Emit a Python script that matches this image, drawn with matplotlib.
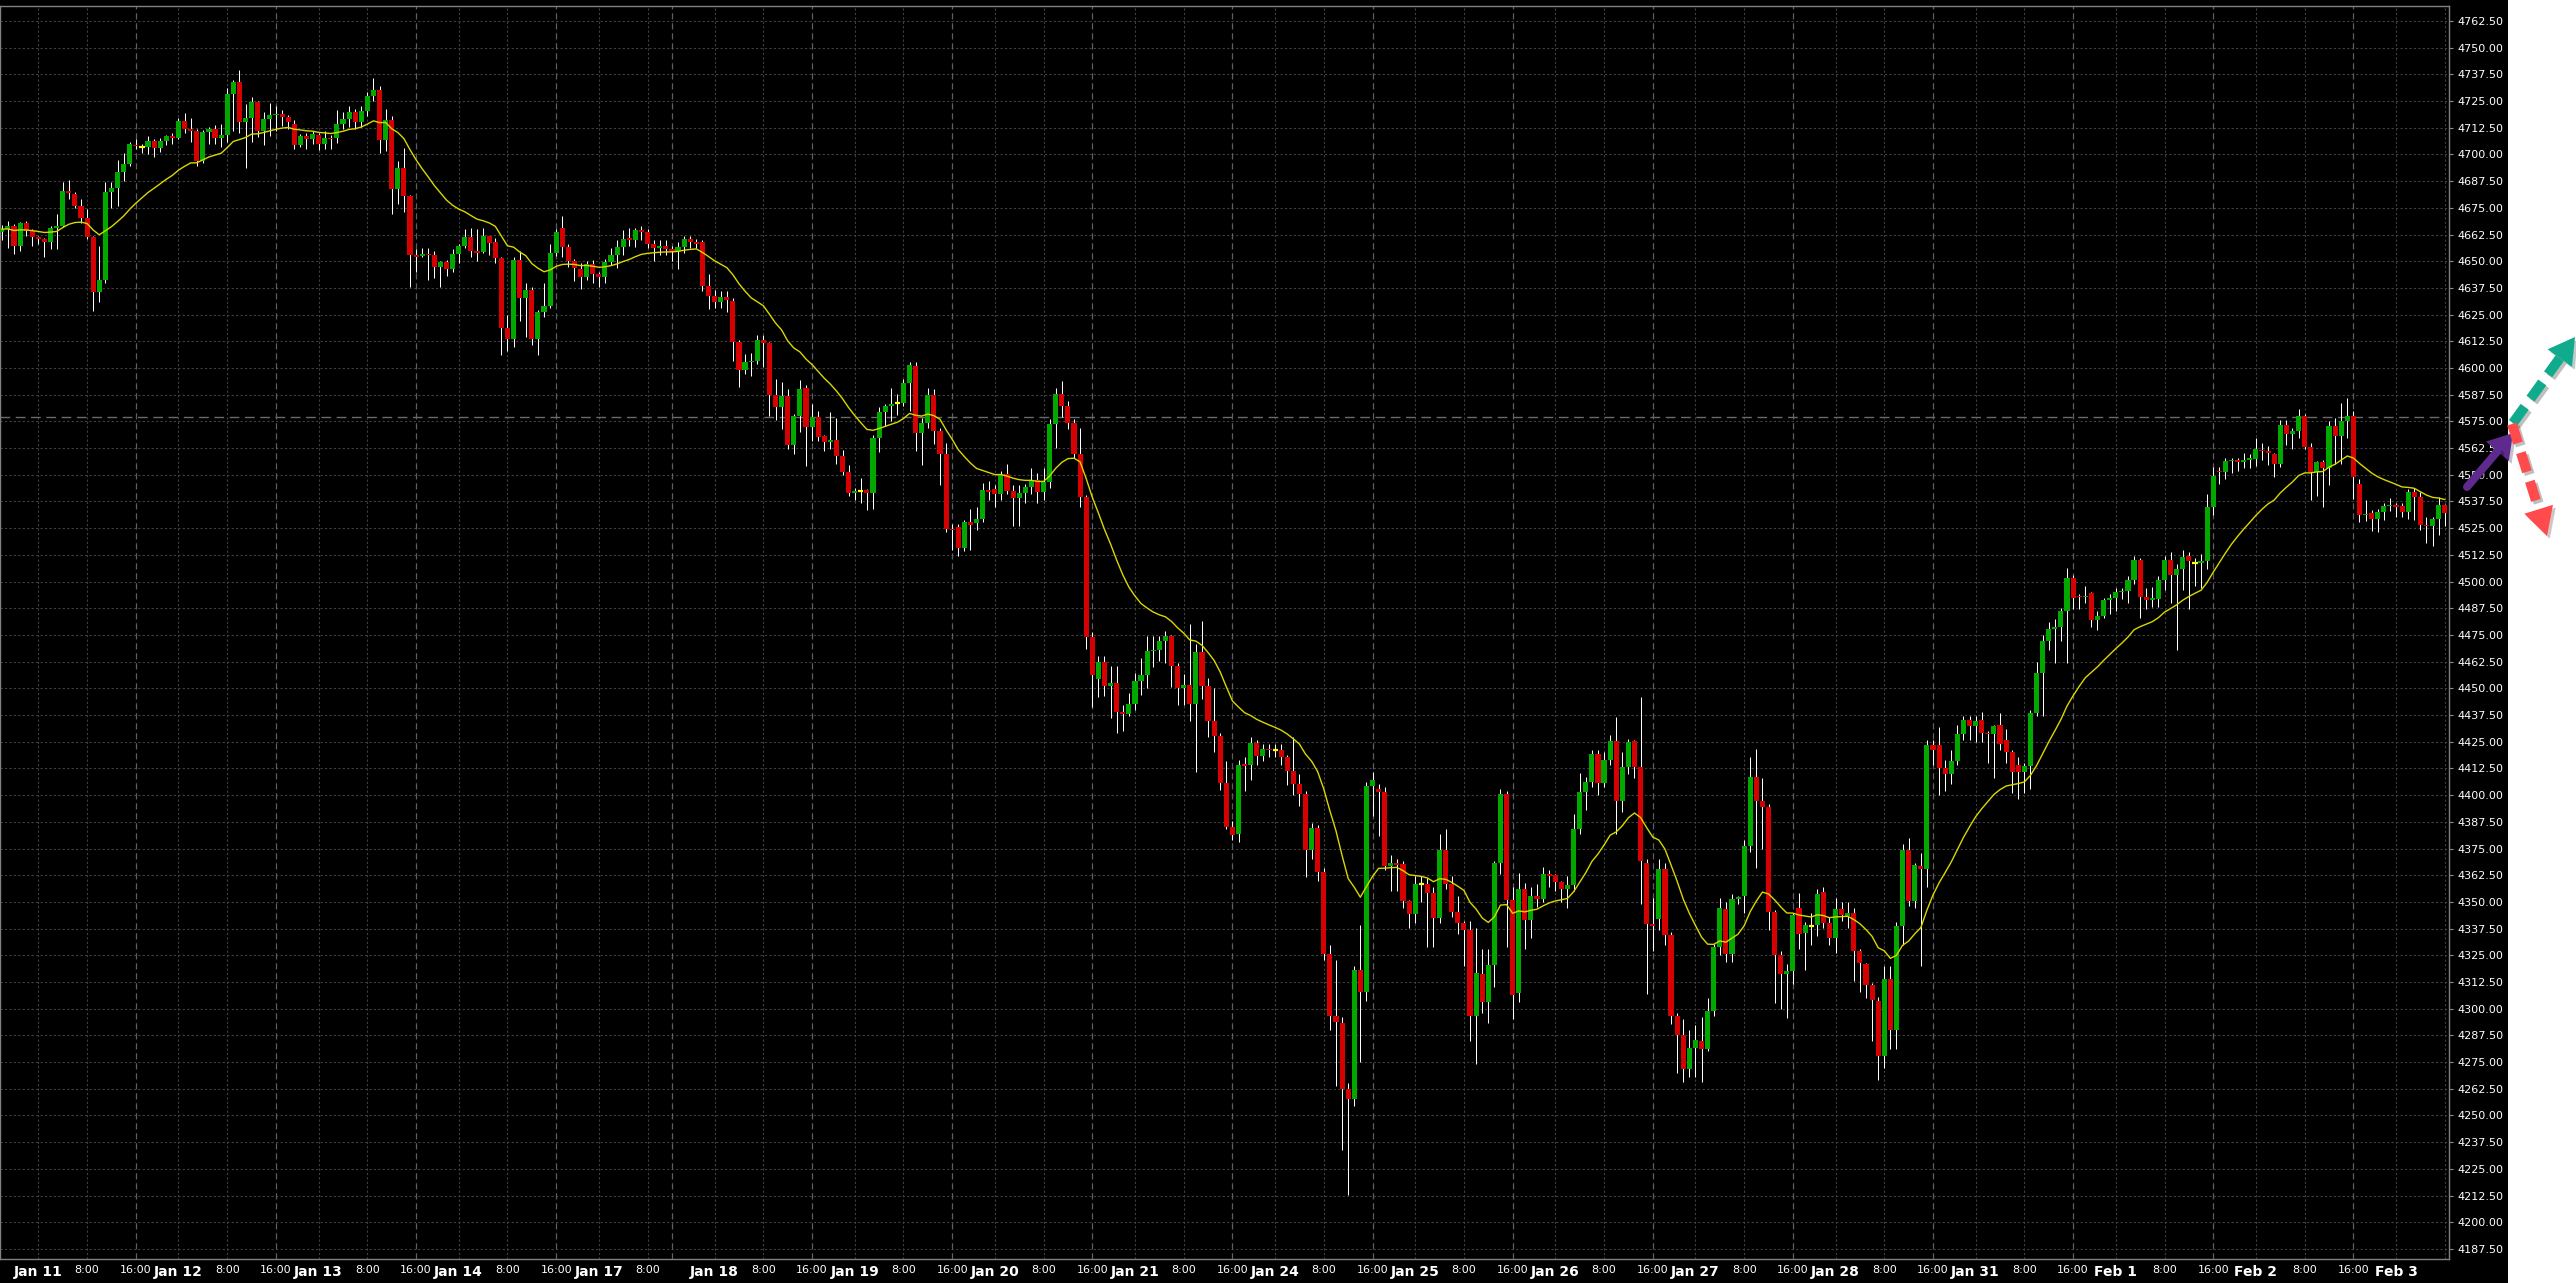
import matplotlib
matplotlib.use("Agg")
import matplotlib.pyplot as plt
import matplotlib.patheffects as pe
from matplotlib.patches import Rectangle, Polygon
import numpy as np
import pandas as pd

# hourly sessions (ET), one bar per hour, 17:00 break
full_day = list(range(0, 17)) + list(range(18, 24))
sessions = [
    ("Jan 10", list(range(18, 24))),
    ("Jan 11", full_day), ("Jan 12", full_day), ("Jan 13", full_day),
    ("Jan 14", list(range(0, 17))),
    ("Jan 16", list(range(18, 24))),
    ("Jan 17", list(range(0, 13)) + list(range(18, 24))),
    ("Jan 18", full_day), ("Jan 19", full_day), ("Jan 20", full_day),
    ("Jan 21", list(range(0, 17))),
    ("Jan 23", list(range(18, 24))),
    ("Jan 24", full_day), ("Jan 25", full_day), ("Jan 26", full_day), ("Jan 27", full_day),
    ("Jan 28", list(range(0, 17))),
    ("Jan 30", list(range(18, 24))),
    ("Jan 31", full_day), ("Feb 1", full_day), ("Feb 2", full_day),
    ("Feb 3", list(range(0, 9))),
]

opens = [
    4663.8, 4665.0, 4666.3, 4657.3, 4667.7, 4664.0, 4661.3, 4660.2, 4658.9, 4665.5,
    4666.7, 4683.1, 4681.6, 4675.8, 4670.2, 4661.3, 4635.5, 4641.4, 4682.2, 4684.5,
    4691.6, 4695.6, 4704.5, 4703.4, 4703.4, 4706.1, 4703.0, 4706.1, 4708.4, 4707.8,
    4715.5, 4711.7, 4711.0, 4696.7, 4710.5, 4711.7, 4707.8, 4708.9, 4728.1, 4733.9,
    4715.2, 4717.0, 4724.5, 4711.0, 4716.4, 4718.3, 4719.0, 4717.5, 4714.4, 4704.2,
    4708.4, 4707.0, 4709.0, 4705.0, 4707.8, 4707.6, 4714.4, 4716.4, 4719.8, 4715.2,
    4720.3, 4727.5, 4730.3, 4706.9, 4716.2, 4683.9, 4693.6, 4680.5, 4652.8, 4652.5,
    4653.6, 4652.9, 4647.2, 4649.4, 4646.3, 4653.4, 4657.3, 4661.3, 4654.7, 4654.5,
    4661.6, 4658.9, 4651.4, 4618.6, 4613.4, 4650.8, 4632.8, 4636.3, 4613.4, 4626.4,
    4629.2, 4653.8, 4665.6, 4656.6, 4650.3, 4646.4, 4642.5, 4648.8, 4644.1, 4642.8,
    4649.5, 4653.1, 4656.6, 4661.0, 4660.0, 4664.4, 4663.6, 4658.1, 4656.3, 4657.0,
    4655.6, 4655.0, 4656.6, 4660.5, 4658.9, 4658.9, 4638.6, 4633.9, 4631.1, 4633.4,
    4631.6, 4612.0, 4599.2, 4603.0, 4603.4, 4613.3, 4611.6, 4587.5, 4581.9, 4587.0,
    4564.0, 4577.7, 4590.6, 4572.2, 4577.2, 4568.1, 4565.2, 4566.3, 4559.0, 4551.1,
    4541.7, 4542.5, 4542.8, 4541.3, 4567.0, 4579.5, 4582.3, 4583.4, 4583.8, 4592.8,
    4601.1, 4569.4, 4574.1, 4587.5, 4570.6, 4559.8, 4524.5, 4525.6, 4515.9, 4527.7,
    4527.3, 4529.5, 4542.8, 4543.4, 4540.8, 4550.3, 4542.6, 4539.0, 4541.3, 4544.1,
    4547.7, 4542.0, 4546.7, 4573.7, 4587.6, 4582.0, 4574.2, 4559.6, 4539.5, 4473.9,
    4454.6, 4462.3, 4451.3, 4452.6, 4439.0, 4437.9, 4442.8, 4453.3, 4456.2, 4467.5,
    4468.0, 4472.1, 4474.7, 4460.6, 4450.3, 4451.8, 4442.6, 4467.0, 4451.3, 4434.8,
    4427.9, 4405.8, 4385.2, 4382.0, 4414.5, 4414.3, 4424.4, 4418.5, 4421.8, 4420.9,
    4420.9, 4417.8, 4411.4, 4405.0, 4400.6, 4374.4, 4384.4, 4364.1, 4325.5, 4296.4,
    4293.3, 4262.5, 4257.9, 4318.3, 4308.0, 4404.5, 4402.7, 4401.7, 4366.6, 4368.1,
    4367.8, 4350.3, 4344.4, 4358.5, 4358.5, 4354.3, 4342.7, 4374.1, 4358.2, 4345.3,
    4340.2, 4336.9, 4296.6, 4316.4, 4303.1, 4320.3, 4368.3, 4400.5, 4350.8, 4307.2,
    4356.0, 4341.5, 4352.8, 4351.4, 4363.3, 4362.5, 4359.4, 4356.1, 4357.8, 4384.1,
    4401.3, 4406.1, 4419.2, 4405.5, 4416.4, 4425.3, 4397.3, 4413.0, 4425.3, 4413.0,
    4368.4, 4339.8, 4342.0, 4365.6, 4334.4, 4296.6, 4287.5, 4271.9, 4281.7, 4285.0,
    4281.3, 4298.9, 4328.9, 4346.7, 4325.5, 4351.4, 4352.6, 4376.3, 4408.6, 4397.2,
    4394.5, 4345.3, 4325.0, 4316.4, 4317.7, 4347.0, 4335.4, 4338.6, 4339.0, 4354.5,
    4340.2, 4333.1, 4346.6, 4343.5, 4345.0, 4326.9, 4320.8, 4310.9, 4303.6, 4277.7,
    4313.7, 4289.8, 4338.6, 4374.2, 4350.5, 4366.7, 4365.5, 4423.7, 4423.4, 4412.9,
    4409.7, 4415.9, 4428.4, 4435.2, 4432.5, 4435.2, 4429.1, 4428.5, 4432.7, 4426.0,
    4420.3, 4414.0, 4410.6, 4413.6, 4438.6, 4457.0, 4472.2, 4478.0, 4478.9, 4486.0,
    4501.6, 4493.4, 4492.6, 4494.5, 4482.0, 4484.1, 4491.4, 4492.2, 4494.9, 4495.7,
    4500.8, 4510.0, 4492.6, 4491.4, 4491.9, 4500.8, 4510.3, 4503.3, 4505.9, 4512.0,
    4508.9, 4508.6, 4509.4, 4534.7, 4552.0, 4551.1, 4556.3, 4557.0, 4555.8, 4557.0,
    4557.5, 4561.7, 4561.0, 4559.8, 4555.2, 4573.4, 4569.1, 4570.3, 4577.7, 4563.0,
    4551.1, 4555.8, 4553.1, 4573.0, 4568.0, 4575.0, 4577.3, 4545.8, 4531.1, 4532.0,
    4529.2, 4532.5, 4535.5, 4535.7, 4535.5, 4532.8, 4541.9, 4539.8, 4526.4, 4525.8,
    4529.2, 4536.0,
]

highs = [
    4667.0, 4669.0, 4667.5, 4668.5, 4669.0, 4665.0, 4661.8, 4661.0, 4666.5, 4672.0,
    4687.0, 4688.0, 4682.5, 4679.0, 4674.5, 4662.0, 4656.9, 4687.0, 4687.0, 4697.2,
    4700.8, 4706.0, 4707.2, 4705.0, 4708.8, 4707.0, 4707.5, 4709.0, 4710.0, 4717.0,
    4719.5, 4717.0, 4712.0, 4711.5, 4713.0, 4714.0, 4714.4, 4731.0, 4735.0, 4739.4,
    4723.6, 4727.0, 4725.0, 4720.0, 4724.0, 4722.5, 4721.0, 4718.5, 4716.0, 4709.5,
    4710.0, 4711.0, 4710.0, 4711.0, 4709.0, 4720.6, 4719.7, 4722.5, 4721.5, 4722.8,
    4729.0, 4735.9, 4732.0, 4721.1, 4718.0, 4696.9, 4703.0, 4681.0, 4655.5, 4656.0,
    4656.0, 4655.0, 4650.0, 4650.5, 4655.5, 4658.0, 4665.0, 4665.5, 4665.0, 4665.5,
    4662.0, 4661.0, 4652.0, 4625.0, 4652.0, 4655.0, 4640.0, 4638.0, 4627.0, 4640.0,
    4658.0, 4665.0, 4671.0, 4657.9, 4651.0, 4649.0, 4650.0, 4650.5, 4645.0, 4651.0,
    4656.0, 4660.0, 4664.5, 4665.7, 4665.5, 4666.5, 4665.0, 4660.0, 4660.0, 4660.0,
    4657.0, 4659.0, 4662.0, 4662.0, 4660.5, 4660.0, 4644.0, 4636.3, 4636.0, 4636.0,
    4633.0, 4613.0, 4606.4, 4607.0, 4615.6, 4615.6, 4612.0, 4595.0, 4593.6, 4590.0,
    4578.5, 4594.5, 4592.0, 4583.0, 4580.0, 4568.5, 4579.5, 4576.5, 4561.5, 4554.7,
    4544.0, 4548.5, 4543.5, 4568.5, 4581.6, 4583.0, 4590.5, 4588.0, 4595.0, 4602.8,
    4602.8, 4576.5, 4590.5, 4590.0, 4572.0, 4565.0, 4527.0, 4527.0, 4529.0, 4534.0,
    4535.0, 4546.0, 4547.0, 4545.0, 4552.0, 4555.0, 4545.0, 4545.0, 4545.5, 4553.0,
    4551.0, 4553.0, 4576.0, 4590.5, 4594.0, 4584.5, 4576.0, 4572.0, 4540.5, 4476.5,
    4465.0, 4465.0, 4460.5, 4460.5, 4442.0, 4448.0, 4457.0, 4464.0, 4474.4, 4474.4,
    4474.5, 4477.0, 4475.0, 4462.0, 4456.8, 4480.0, 4470.8, 4481.4, 4455.0, 4450.0,
    4429.0, 4416.0, 4388.0, 4416.5, 4418.0, 4427.0, 4426.0, 4424.0, 4424.0, 4424.0,
    4424.0, 4419.0, 4427.0, 4410.0, 4402.0, 4387.0, 4386.0, 4366.0, 4330.0, 4323.0,
    4296.0, 4265.0, 4320.0, 4339.0, 4406.0, 4410.9, 4405.0, 4404.0, 4372.0, 4370.0,
    4369.0, 4351.0, 4362.0, 4362.0, 4361.0, 4357.0, 4381.6, 4384.0, 4362.0, 4353.0,
    4341.0, 4341.0, 4338.0, 4328.0, 4328.0, 4369.0, 4402.8, 4402.0, 4357.0, 4363.5,
    4359.0, 4357.0, 4358.6, 4366.5, 4365.0, 4363.0, 4360.0, 4362.0, 4391.0, 4410.2,
    4408.5, 4421.0, 4421.0, 4420.0, 4428.0, 4436.7, 4420.0, 4426.5, 4426.0, 4446.0,
    4370.0, 4352.0, 4370.0, 4368.0, 4336.0, 4298.0, 4295.0, 4290.0, 4292.5, 4296.0,
    4305.0, 4330.5, 4352.0, 4350.0, 4353.5, 4353.0, 4379.0, 4418.0, 4421.6, 4408.0,
    4396.0, 4346.0, 4327.0, 4321.0, 4345.0, 4354.0, 4340.5, 4345.0, 4356.0, 4357.0,
    4343.0, 4352.0, 4350.0, 4350.0, 4347.0, 4328.0, 4321.5, 4312.0, 4305.5, 4320.0,
    4320.0, 4340.5, 4377.0, 4380.0, 4368.0, 4373.0, 4426.0, 4426.0, 4432.0, 4416.5,
    4421.0, 4433.0, 4437.0, 4437.0, 4437.0, 4439.0, 4430.0, 4433.0, 4438.5, 4431.0,
    4421.0, 4418.0, 4415.0, 4440.0, 4462.5, 4475.0, 4481.3, 4482.5, 4487.5, 4506.2,
    4503.0, 4494.0, 4497.7, 4495.0, 4486.0, 4492.5, 4494.0, 4497.0, 4497.0, 4502.5,
    4512.2, 4511.0, 4497.0, 4497.5, 4502.5, 4512.0, 4514.0, 4508.0, 4515.0, 4514.0,
    4511.0, 4513.0, 4541.0, 4553.5, 4553.5, 4558.0, 4558.0, 4558.0, 4560.0, 4559.5,
    4567.0, 4565.0, 4563.5, 4560.0, 4575.6, 4575.6, 4572.0, 4581.0, 4578.5, 4565.0,
    4556.5, 4557.0, 4575.0, 4576.5, 4583.5, 4585.9, 4580.0, 4548.0, 4538.3, 4533.5,
    4534.0, 4537.0, 4539.0, 4537.0, 4537.0, 4543.5, 4544.0, 4542.0, 4530.0, 4530.0,
    4539.4, 4536.5,
]

lows = [
    4660.0, 4656.0, 4653.5, 4655.0, 4662.0, 4657.0, 4658.0, 4652.0, 4655.8, 4655.8,
    4666.0, 4679.0, 4675.0, 4668.0, 4660.5, 4626.6, 4631.0, 4639.7, 4675.0, 4676.0,
    4687.5, 4694.8, 4702.5, 4700.8, 4700.0, 4698.8, 4701.0, 4704.5, 4705.0, 4707.0,
    4710.0, 4706.0, 4694.5, 4696.0, 4705.0, 4705.0, 4703.5, 4706.0, 4711.0, 4710.0,
    4693.6, 4706.0, 4708.0, 4704.4, 4708.5, 4711.0, 4713.5, 4712.0, 4702.5, 4703.3,
    4702.5, 4705.0, 4702.0, 4702.5, 4702.5, 4705.5, 4712.0, 4713.0, 4712.0, 4713.0,
    4718.0, 4725.0, 4700.8, 4701.5, 4672.3, 4677.0, 4673.0, 4638.0, 4645.0, 4652.0,
    4641.4, 4642.0, 4637.7, 4643.0, 4645.0, 4649.0, 4656.0, 4652.0, 4650.0, 4654.0,
    4653.0, 4649.0, 4606.0, 4608.0, 4610.0, 4622.0, 4614.7, 4611.0, 4606.0, 4624.0,
    4628.0, 4652.5, 4652.0, 4647.4, 4640.7, 4637.0, 4641.0, 4640.0, 4638.0, 4640.0,
    4648.0, 4646.6, 4653.0, 4657.0, 4656.6, 4660.0, 4656.0, 4650.3, 4653.0, 4653.0,
    4650.0, 4646.5, 4654.0, 4656.0, 4656.0, 4636.0, 4627.7, 4628.0, 4628.0, 4626.0,
    4603.3, 4591.0, 4597.0, 4596.4, 4602.0, 4600.5, 4577.7, 4575.5, 4571.4, 4562.0,
    4559.5, 4570.0, 4553.9, 4566.0, 4566.0, 4561.0, 4562.0, 4555.0, 4550.0, 4540.0,
    4538.0, 4537.0, 4533.5, 4534.0, 4560.5, 4573.0, 4575.0, 4578.0, 4582.0, 4580.0,
    4561.0, 4554.8, 4572.0, 4564.5, 4545.0, 4523.0, 4515.0, 4512.0, 4514.5, 4515.0,
    4524.0, 4528.0, 4538.0, 4535.0, 4538.0, 4541.0, 4526.0, 4526.0, 4537.0, 4541.0,
    4537.0, 4538.0, 4544.0, 4562.5, 4577.0, 4571.5, 4558.0, 4535.0, 4468.5, 4441.5,
    4446.0, 4446.5, 4436.0, 4429.0, 4430.0, 4437.0, 4440.0, 4447.0, 4450.0, 4460.0,
    4463.0, 4462.0, 4450.5, 4442.0, 4442.0, 4434.5, 4411.0, 4445.0, 4427.0, 4420.0,
    4402.5, 4384.0, 4379.0, 4378.0, 4402.0, 4407.0, 4414.0, 4416.0, 4418.0, 4418.0,
    4414.0, 4404.6, 4400.0, 4395.0, 4361.6, 4370.0, 4360.0, 4323.0, 4290.0, 4264.0,
    4234.0, 4212.9, 4254.5, 4275.0, 4303.5, 4390.0, 4381.0, 4365.0, 4355.0, 4355.0,
    4347.0, 4338.0, 4340.0, 4350.0, 4329.0, 4329.0, 4340.0, 4356.0, 4343.0, 4335.0,
    4320.0, 4285.0, 4274.0, 4298.0, 4293.5, 4310.0, 4363.0, 4329.0, 4295.0, 4303.0,
    4328.0, 4333.0, 4347.5, 4350.0, 4357.0, 4355.0, 4350.0, 4347.0, 4355.0, 4382.0,
    4393.0, 4404.0, 4400.0, 4404.0, 4414.0, 4382.0, 4392.0, 4410.0, 4408.0, 4349.0,
    4307.0, 4327.0, 4337.0, 4330.0, 4293.0, 4270.0, 4265.5, 4268.0, 4268.0, 4265.5,
    4280.0, 4296.5, 4325.0, 4322.0, 4322.0, 4349.0, 4345.0, 4373.6, 4366.0, 4375.0,
    4337.0, 4302.7, 4300.0, 4295.5, 4311.5, 4328.0, 4318.0, 4330.0, 4334.0, 4338.0,
    4330.0, 4326.0, 4341.0, 4338.0, 4313.0, 4308.0, 4305.0, 4285.0, 4266.6, 4272.0,
    4281.0, 4281.0, 4330.0, 4348.0, 4347.0, 4320.0, 4357.0, 4414.0, 4400.0, 4402.0,
    4405.0, 4414.0, 4426.0, 4426.0, 4425.0, 4425.0, 4415.0, 4408.0, 4421.0, 4415.0,
    4401.0, 4398.0, 4401.0, 4403.0, 4437.0, 4437.0, 4468.0, 4462.0, 4472.0, 4462.0,
    4487.0, 4487.0, 4490.0, 4478.5, 4477.5, 4483.0, 4485.0, 4486.0, 4492.0, 4490.0,
    4499.0, 4483.0, 4487.0, 4488.0, 4488.0, 4496.0, 4490.0, 4468.0, 4496.0, 4487.0,
    4498.0, 4497.0, 4506.0, 4531.0, 4545.5, 4548.0, 4551.0, 4552.0, 4553.0, 4553.0,
    4554.0, 4557.0, 4554.5, 4549.0, 4553.5, 4564.0, 4562.0, 4567.0, 4562.0, 4538.0,
    4540.0, 4535.0, 4545.0, 4555.0, 4555.0, 4567.0, 4538.5, 4528.0, 4528.5, 4523.5,
    4523.0, 4529.0, 4533.0, 4530.0, 4530.0, 4529.5, 4529.0, 4524.0, 4518.0, 4516.5,
    4522.0, 4526.0,
]

closes = [
    4665.0, 4666.3, 4657.3, 4667.7, 4664.0, 4661.3, 4660.2, 4658.9, 4665.5, 4666.7,
    4683.1, 4682.0, 4675.8, 4670.2, 4661.3, 4635.5, 4641.4, 4682.2, 4684.5, 4691.6,
    4695.6, 4704.7, 4703.8, 4703.4, 4706.1, 4703.0, 4706.1, 4708.4, 4707.8, 4715.5,
    4711.7, 4711.0, 4696.7, 4710.5, 4711.7, 4707.8, 4708.9, 4728.1, 4733.9, 4715.2,
    4717.0, 4724.5, 4711.0, 4716.4, 4718.3, 4718.8, 4717.5, 4715.2, 4704.2, 4708.4,
    4707.0, 4709.4, 4705.0, 4707.8, 4707.0, 4714.4, 4716.7, 4719.8, 4715.2, 4720.3,
    4727.2, 4730.3, 4706.9, 4715.9, 4683.9, 4693.6, 4680.5, 4652.8, 4652.2, 4653.6,
    4652.9, 4647.2, 4649.4, 4646.3, 4653.4, 4657.3, 4661.3, 4654.7, 4653.8, 4661.6,
    4658.4, 4651.4, 4618.6, 4613.4, 4650.8, 4632.8, 4636.3, 4613.4, 4626.4, 4629.2,
    4653.8, 4663.9, 4656.6, 4650.3, 4646.9, 4642.8, 4648.8, 4644.1, 4642.5, 4649.5,
    4653.1, 4656.6, 4660.5, 4660.0, 4664.4, 4663.6, 4658.1, 4656.3, 4656.9, 4655.6,
    4654.8, 4656.6, 4660.5, 4658.9, 4658.1, 4638.6, 4633.9, 4631.1, 4633.4, 4632.0,
    4612.0, 4599.2, 4603.0, 4603.4, 4613.3, 4611.6, 4587.5, 4581.9, 4587.0, 4564.0,
    4577.7, 4590.3, 4572.2, 4576.9, 4567.8, 4565.2, 4566.3, 4559.0, 4551.1, 4541.7,
    4542.5, 4542.5, 4541.3, 4567.0, 4579.5, 4582.3, 4583.1, 4583.4, 4592.8, 4601.6,
    4569.4, 4574.1, 4587.5, 4570.6, 4559.7, 4524.5, 4524.0, 4515.9, 4527.7, 4526.6,
    4529.2, 4542.8, 4542.0, 4540.8, 4550.3, 4542.6, 4539.0, 4541.3, 4544.1, 4547.7,
    4542.0, 4546.7, 4573.7, 4587.6, 4582.0, 4574.2, 4559.6, 4539.5, 4473.9, 4456.4,
    4462.3, 4451.3, 4452.6, 4438.7, 4437.9, 4442.8, 4453.3, 4456.2, 4467.5, 4468.0,
    4472.1, 4474.7, 4460.6, 4450.3, 4451.8, 4442.6, 4467.0, 4451.3, 4434.8, 4427.9,
    4405.8, 4385.2, 4381.3, 4414.0, 4413.5, 4424.4, 4418.5, 4421.6, 4420.9, 4420.9,
    4417.8, 4411.4, 4405.0, 4400.6, 4374.4, 4384.4, 4364.1, 4325.5, 4296.4, 4293.9,
    4262.5, 4257.9, 4318.3, 4308.0, 4404.5, 4407.1, 4401.7, 4366.6, 4368.3, 4367.2,
    4350.3, 4344.4, 4358.5, 4358.5, 4354.3, 4342.7, 4374.1, 4358.2, 4345.3, 4340.2,
    4336.9, 4296.6, 4316.7, 4303.1, 4320.3, 4368.3, 4400.5, 4350.8, 4306.3, 4356.0,
    4341.5, 4352.8, 4351.4, 4363.3, 4362.3, 4359.4, 4356.1, 4357.8, 4384.1, 4401.3,
    4406.1, 4419.2, 4405.5, 4416.4, 4425.3, 4397.3, 4413.0, 4425.0, 4413.0, 4369.2,
    4339.8, 4338.6, 4365.6, 4334.4, 4296.6, 4287.5, 4271.9, 4281.7, 4285.2, 4281.3,
    4298.9, 4328.9, 4347.2, 4325.5, 4351.4, 4352.2, 4376.3, 4408.6, 4397.2, 4394.5,
    4345.3, 4325.0, 4316.4, 4317.7, 4344.1, 4335.2, 4339.0, 4338.6, 4353.9, 4340.2,
    4333.1, 4346.6, 4344.1, 4345.0, 4326.9, 4321.4, 4310.9, 4303.9, 4277.7, 4313.7,
    4289.8, 4338.6, 4374.2, 4350.5, 4367.2, 4365.5, 4423.7, 4421.1, 4412.9, 4409.7,
    4415.9, 4428.4, 4435.2, 4432.5, 4434.7, 4429.1, 4428.5, 4432.2, 4424.1, 4420.3,
    4410.6, 4410.6, 4413.6, 4438.6, 4457.0, 4472.2, 4478.0, 4478.9, 4486.0, 4501.6,
    4492.2, 4492.6, 4493.4, 4482.0, 4484.1, 4491.4, 4492.2, 4494.9, 4495.7, 4500.8,
    4510.0, 4492.6, 4491.4, 4492.2, 4500.8, 4510.3, 4503.3, 4505.9, 4511.7, 4509.4,
    4508.9, 4509.4, 4534.7, 4549.5, 4551.1, 4556.3, 4557.1, 4555.8, 4557.0, 4557.7,
    4562.0, 4561.0, 4560.2, 4555.2, 4573.4, 4569.2, 4570.3, 4577.7, 4563.0, 4551.1,
    4555.8, 4553.1, 4573.0, 4568.0, 4575.0, 4577.3, 4548.9, 4531.3, 4531.8, 4529.2,
    4532.5, 4535.5, 4536.0, 4534.8, 4532.8, 4541.9, 4539.8, 4526.6, 4525.8, 4529.2,
    4536.0, 4532.0,
]

ma_span = 20
ref_price = 4577.2   # dashed horizontal price line
ytick_values = np.arange(4187.5, 4762.6, 12.5)

# ---- bar timeline
bar_day, bar_hour = [], []
for day, hours in sessions:
    for hr in hours:
        bar_day.append(day)
        bar_hour.append(hr)
n = len(bar_hour)
x = np.arange(n)

o = np.array(opens)
h = np.array(highs)
l = np.array(lows)
c = np.array(closes)
ma = pd.Series(c).ewm(span=ma_span, adjust=False).mean()

# ---- figure
W, H = 2576, 1283
fig = plt.figure(figsize=(W / 100, H / 100), dpi=100, facecolor="white")
fig.patches.append(Rectangle((0, 0), 2508 / W, 1, transform=fig.transFigure,
                             facecolor="black", edgecolor="none", zorder=-10))

ax = fig.add_axes([0, 24 / H, 2449 / W, 1253 / H])
ax.set_facecolor("black")
ax.set_xlim(-0.3, 401.7)
ax.set_ylim(4182.8, 4769.5)

# horizontal grid
for p in ytick_values:
    ax.axhline(p, color="#404040", lw=0.8, ls=(0, (2, 2)), zorder=0)

# vertical grid at 0:00 / 8:00 / 16:00 and session ends
tick_pos, tick_lab, tick_is_day = [], [], []
for k in range(n):
    hr = bar_hour[k]
    sess_end = k < n - 1 and bar_hour[k + 1] != hr + 1 and not (hr == 23 and bar_hour[k + 1] == 0)
    if sess_end:
        ax.axvline(k, color="#5e5e5e", lw=0.9, ls=(0, (5, 3)), zorder=0)
    elif hr in (0, 8, 16):
        ax.axvline(k, color="#404040", lw=0.8, ls=(0, (2, 2)), zorder=0)
    if hr in (0, 8, 16) and k < n - 2:
        tick_pos.append(k)
        tick_lab.append(bar_day[k] if hr == 0 else f"{hr}:00")
        tick_is_day.append(hr == 0)

ax.axhline(ref_price, color="#6a6a6a", lw=1.0, ls=(0, (7, 4)), zorder=1)

# candles
up = c > o
dn = c < o
dj = c == o
ax.vlines(x, l, h, color="white", lw=0.72, zorder=2)
ax.bar(x[up], (c - o)[up], bottom=o[up], width=0.84, color="#00a800", lw=0,
       zorder=3, antialiased=False)
ax.bar(x[dn], (o - c)[dn], bottom=c[dn], width=0.84, color="#d60000", lw=0,
       zorder=3, antialiased=False)
ax.hlines(c[dj], x[dj] - 0.42, x[dj] + 0.42, color="#ffff00", lw=1.6, zorder=3)

ax.plot(x, ma, color="#d8d800", lw=1.0, zorder=4)

# axes styling
for s in ax.spines.values():
    s.set_color("#808080")
    s.set_linewidth(1.0)
ax.yaxis.tick_right()
ax.set_yticks(ytick_values)
ax.set_yticklabels([f"{v:.2f}" for v in ytick_values])
ax.tick_params(axis="y", labelcolor="white", color="#909090", labelsize=8,
               length=3, width=0.8, pad=3)
ax.set_xticks(tick_pos)
ax.set_xticklabels(tick_lab)
ax.tick_params(axis="x", length=0, pad=4, labelcolor="white")
for lab, is_day in zip(ax.get_xticklabels(), tick_is_day):
    lab.set_family(["Liberation Sans Narrow", "DejaVu Sans"])
    if is_day:
        lab.set_fontsize(10)
        lab.set_fontweight("bold")
    else:
        lab.set_fontsize(8)

# ---- trend arrows on the right edge (pixel coordinates)
ov = fig.add_axes([0, 0, 1, 1])
ov.set_xlim(0, W)
ov.set_ylim(H, 0)
ov.axis("off")
ov.patch.set_alpha(0)


def arrow(tail, tip, color, width, head_w, head_l, dashed):
    t = np.array(tail, float)
    p = np.array(tip, float)
    u = (p - t) / np.hypot(*(p - t))
    nrm = np.array([-u[1], u[0]])
    base = p - u * head_l
    shadow = [pe.SimpleLineShadow(offset=(2, -2), alpha=0.25), pe.Normal()]
    ov.plot([t[0], base[0]], [t[1], base[1]], color=color, lw=width * 0.72,
            ls=(0, (2, 1)) if dashed else "-", solid_capstyle="round",
            dash_capstyle="butt", path_effects=shadow)
    head = Polygon([p, base + nrm * head_w / 2, base - nrm * head_w / 2],
                   closed=True, facecolor=color, edgecolor="none",
                   path_effects=[pe.SimplePatchShadow(offset=(2, -2), alpha=0.25), pe.Normal()])
    ov.add_patch(head)


arrow((2513, 423), (2575, 337), "#0fab8c", 10, 30, 26, True)
arrow((2512, 424), (2547, 536), "#ff4b4b", 10, 30, 28, True)
arrow((2467, 487), (2513, 433), "#5f2a8e", 8, 30, 24, False)

fig.savefig("out.png", dpi=100, facecolor=fig.get_facecolor())
